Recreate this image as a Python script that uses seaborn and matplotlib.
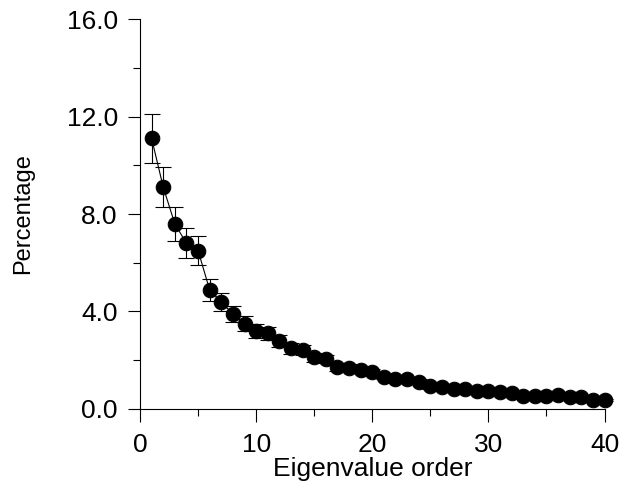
import matplotlib
matplotlib.use("Agg")
import matplotlib.pyplot as plt
import seaborn as sns
import pandas as pd
from matplotlib.ticker import MultipleLocator

order = list(range(1, 41))
percentage = [11.1, 9.1, 7.59, 6.8, 6.5, 4.88, 4.39, 3.9, 3.5, 3.2,
              3.1, 2.8, 2.49, 2.42, 2.12, 2.04, 1.72, 1.7, 1.6, 1.51,
              1.33, 1.22, 1.22, 1.12, 0.93, 0.92, 0.82, 0.82, 0.74, 0.74,
              0.71, 0.64, 0.53, 0.53, 0.55, 0.57, 0.48, 0.48, 0.37, 0.37]
error = [1.0, 0.83, 0.68, 0.62, 0.6, 0.44, 0.37, 0.33, 0.3, 0.28,
         0.26, 0.24, 0.22, 0.2, 0.18, 0.16, 0.15, 0.14, 0.13, 0.12,
         0.11, 0.1, 0.1, 0.09, 0.09, 0.08, 0.08, 0.07, 0.07, 0.07,
         0.06, 0.06, 0.06, 0.05, 0.05, 0.05, 0.05, 0.05, 0.04, 0.04]
x_ticks = [0, 10, 20, 30, 40]
y_ticks = [0.0, 4.0, 8.0, 12.0, 16.0]
y_ticklabels = ["0.0", "4.0", "8.0", "12.0", "16.0"]

df = pd.DataFrame({"order": order, "pct": percentage, "err": error})

sns.set_style("ticks")
plt.rcParams["font.family"] = ["Liberation Sans", "DejaVu Sans"]
plt.rcParams["text.color"] = "black"
plt.rcParams["axes.labelcolor"] = "black"

fig = plt.figure(figsize=(6.33, 4.84), dpi=100)
ax = fig.add_axes([0.2212, 0.155, 0.7338, 0.8057])

ax.errorbar(df["order"], df["pct"], yerr=df["err"], fmt="none",
            ecolor="black", elinewidth=0.8, capsize=5.5, capthick=0.8,
            zorder=2, clip_on=False)
sns.lineplot(data=df, x="order", y="pct", ax=ax, color="black",
             linewidth=0.8, marker="o", markersize=10.5,
             markerfacecolor="black", markeredgecolor="black",
             zorder=3, clip_on=False)

ax.set_xlim(0, 40)
ax.set_ylim(0, 16)
ax.set_xticks(x_ticks)
ax.set_xticklabels([str(t) for t in x_ticks])
ax.set_yticks(y_ticks)
ax.set_yticklabels(y_ticklabels)
ax.xaxis.set_minor_locator(MultipleLocator(5))
ax.yaxis.set_minor_locator(MultipleLocator(2))

ax.tick_params(axis="both", which="major", direction="out", length=9,
               width=0.8, color="black", labelsize=19,
               labelcolor="black")
ax.tick_params(axis="x", which="major", pad=8)
ax.tick_params(axis="y", which="major", pad=7)
ax.tick_params(axis="both", which="minor", direction="out", length=5,
               width=0.8, color="black")

for side in ["top", "right"]:
    ax.spines[side].set_visible(False)
for side in ["left", "bottom"]:
    ax.spines[side].set_linewidth(0.8)
    ax.spines[side].set_color("black")

ax.set_xlabel("Eigenvalue order", fontsize=19, labelpad=0.5)
ax.set_ylabel("Percentage", fontsize=17, labelpad=23)

fig.savefig("out.png", dpi=100)
